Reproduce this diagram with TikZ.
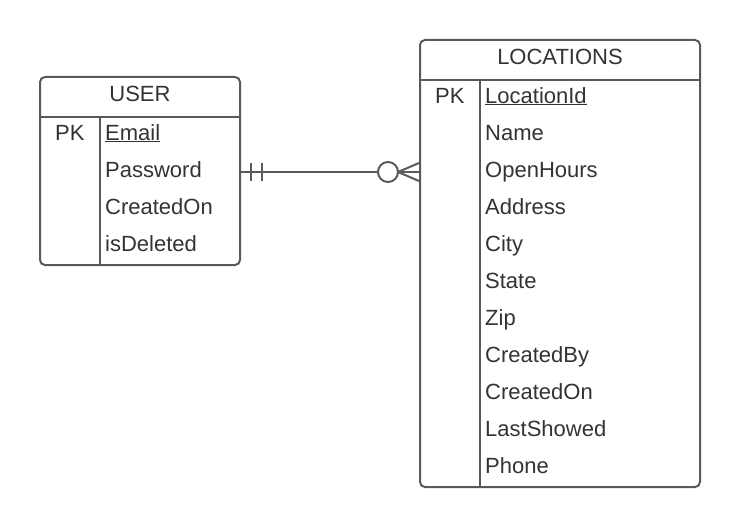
\documentclass[tikz,border=0pt]{standalone}
\usepackage{fontspec}
\setmainfont{Liberation Sans}
\definecolor{ln}{HTML}{595959}
\definecolor{tx}{HTML}{333333}
\begin{document}
\begin{tikzpicture}[x=1pt,y=-1pt,
  tablebox/.style={draw=ln, line width=2pt, rounded corners=5pt, inner sep=0pt, fill=white},
  divider/.style={draw=ln, line width=2pt},
  field/.style={anchor=base west, inner sep=0pt, text=tx, font=\fontsize{22}{26}\selectfont},
  title/.style={anchor=base, inner sep=0pt, text=tx, font=\fontsize{22}{26}\selectfont},
  conn/.style={draw=ln, line width=2pt}]
\useasboundingbox (0,0) rectangle (740,527);
% USER table
\node[tablebox, minimum width=200pt, minimum height=188pt] (user) at (140,171) {};
\draw[divider] (user.west |- 0,117) -- (user.east |- 0,117);
\draw[divider] (100,117) -- (user.south -| 100,0);
\node[title] (usertitle) at (140,102) {USER};
\node[field] (userpk) at (55,140) {PK};
\node[field] (u1) at (105,140) {\underline{Email}};
\node[field] (u2) at (105,177) {Password};
\node[field] (u3) at (105,214) {CreatedOn};
\node[field] (u4) at (105,251) {isDeleted};
% LOCATIONS table
\node[tablebox, minimum width=280pt, minimum height=447pt] (loc) at (560,263.5) {};
\draw[divider] (loc.west |- 0,80) -- (loc.east |- 0,80);
\draw[divider] (480,80) -- (loc.south -| 480,0);
\node[title] (loctitle) at (560,65) {LOCATIONS};
\node[field] (locpk) at (435,103) {PK};
\node[field] (l1) at (485,103) {\underline{LocationId}};
\node[field] (l2) at (485,140) {Name};
\node[field] (l3) at (485,177) {OpenHours};
\node[field] (l4) at (485,214) {Address};
\node[field] (l5) at (485,251) {City};
\node[field] (l6) at (485,288) {State};
\node[field] (l7) at (485,325) {Zip};
\node[field] (l8) at (485,362) {CreatedBy};
\node[field] (l9) at (485,399) {CreatedOn};
\node[field] (l10) at (485,436) {LastShowed};
\node[field] (l11) at (485,473) {Phone};
% relationship
\coordinate (ra) at (user.east |- 0,172);
\coordinate (rb) at (loc.west |- 0,172);
\draw[conn] (ra) -- (rb);
\draw[conn] ([xshift=10pt,yshift=-9pt]ra) -- ([xshift=10pt,yshift=9pt]ra);
\draw[conn] ([xshift=21pt,yshift=-9pt]ra) -- ([xshift=21pt,yshift=9pt]ra);
\draw[conn, fill=white] ([xshift=-31pt]rb) circle (10pt);
\draw[conn] ([xshift=-21pt]rb) -- ([yshift=-9pt]rb);
\draw[conn] ([xshift=-21pt]rb) -- ([yshift=9pt]rb);
\draw[conn] ([xshift=-21pt]rb) -- (rb);
\end{tikzpicture}
\end{document}
